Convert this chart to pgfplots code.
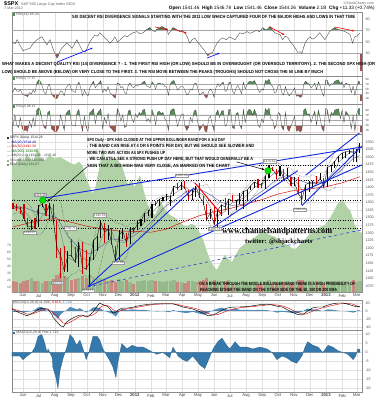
\documentclass[border=0pt]{standalone}
\usepackage{fontspec}
\setmainfont{Liberation Sans}
\newfontfamily\serifb{Liberation Serif}
\usepackage{graphicx}
\usepackage{pgfplots}
\pgfplotsset{compat=1.18}
\usepackage{pgfplotstable}
\usetikzlibrary{arrows.meta}

\definecolor{obg}{RGB}{88,140,88}
\definecolor{osr}{RGB}{160,82,72}
\definecolor{greenarea}{RGB}{176,210,166}
\definecolor{volup}{RGB}{150,185,140}
\definecolor{voldn}{RGB}{200,138,128}
\definecolor{histb}{RGB}{52,120,172}
\definecolor{bbl}{RGB}{20,40,230}

\pgfplotstableread{
d c h l u v m w
0 1338 1350 1330 0 1090 1335 25
7 1333 1346 1323 0 1088 1337 20
14 1331 1336 1311 0 1086 1338 18
21 1300 1346 1297 0 1092 1325 30
28 1271 1300 1268 0 1095 1309 40
35 1271 1292 1258 1 1100 1293 40
42 1268 1298 1263 0 1092 1278 30
49 1340 1341 1270 1 1090 1288 45
56 1344 1356 1334 1 1086 1306 55
63 1316 1344 1306 0 1090 1318 50
70 1345 1347 1295 1 1092 1336 30
77 1292 1345 1282 0 1098 1324 35
84 1199 1291 1168 0 1110 1288 75
91 1178 1199 1101 0 1118 1254 100
98 1124 1208 1123 0 1108 1198 95
105 1177 1190 1122 1 1100 1170 70
112 1174 1230 1170 0 1094 1163 50
119 1154 1204 1149 0 1098 1157 40
126 1216 1220 1136 1 1102 1180 50
133 1136 1220 1114 0 1108 1170 50
140 1131 1195 1128 0 1100 1159 55
147 1155 1171 1075 1 1110 1160 50
154 1225 1226 1160 1 1100 1162 60
161 1238 1239 1191 1 1098 1187 85
168 1285 1292 1232 1 1100 1226 80
175 1253 1284 1215 0 1098 1250 50
182 1264 1277 1226 1 1092 1260 40
189 1216 1265 1209 0 1094 1255 40
196 1159 1208 1158 0 1088 1223 60
203 1244 1260 1162 1 1098 1221 60
210 1255 1267 1231 1 1092 1218 60
217 1219 1249 1202 0 1094 1219 50
224 1265 1268 1214 1 1088 1246 35
231 1258 1269 1248 0 1080 1249 30
238 1278 1294 1258 1 1090 1255 30
245 1289 1297 1274 1 1092 1272 30
252 1315 1316 1286 1 1094 1285 35
259 1316 1327 1306 1 1092 1300 35
266 1345 1346 1300 1 1096 1316 35
273 1343 1354 1337 0 1092 1330 30
280 1361 1362 1340 1 1090 1341 25
287 1366 1368 1356 1 1088 1354 20
294 1370 1378 1358 1 1092 1360 15
301 1371 1372 1340 1 1092 1367 12
308 1404 1406 1372 1 1096 1378 25
315 1397 1414 1391 0 1088 1386 30
322 1408 1419 1392 1 1088 1395 25
329 1398 1422 1394 0 1084 1402 15
336 1370 1391 1357 0 1092 1393 25
343 1378 1392 1358 1 1090 1388 30
350 1403 1406 1368 1 1088 1387 25
357 1369 1415 1367 0 1092 1380 25
364 1353 1371 1343 0 1094 1376 30
371 1295 1345 1291 0 1100 1355 55
378 1318 1328 1295 1 1090 1334 60
385 1278 1334 1277 0 1094 1311 50
392 1325 1330 1267 1 1092 1304 40
399 1343 1343 1307 1 1090 1316 40
406 1335 1364 1324 0 1092 1320 45
413 1362 1363 1309 1 1094 1341 40
420 1355 1375 1352 0 1082 1349 30
427 1357 1357 1326 1 1086 1352 20
434 1363 1380 1345 1 1086 1359 15
441 1386 1389 1329 1 1090 1365 25
448 1391 1392 1354 1 1088 1374 30
455 1406 1406 1390 1 1080 1387 30
462 1418 1418 1399 1 1078 1400 25
469 1411 1426 1398 0 1080 1407 15
476 1407 1413 1397 0 1080 1410 12
483 1438 1438 1396 1 1088 1418 20
490 1466 1475 1430 1 1094 1430 40
497 1460 1467 1454 0 1088 1443 40
504 1441 1461 1428 0 1086 1451 30
511 1461 1471 1439 1 1086 1457 20
518 1429 1461 1425 0 1088 1448 25
525 1433 1464 1428 1 1090 1441 25
532 1412 1434 1403 0 1086 1434 30
539 1414 1434 1405 1 1088 1422 25
546 1380 1434 1377 0 1094 1410 30
553 1360 1389 1343 0 1096 1391 45
560 1409 1409 1358 1 1084 1391 45
567 1416 1420 1385 1 1090 1391 45
574 1418 1420 1398 1 1090 1401 40
581 1413 1439 1411 0 1090 1414 20
588 1430 1448 1424 1 1092 1419 15
595 1402 1430 1399 0 1080 1416 20
602 1466 1467 1402 1 1090 1428 40
609 1472 1473 1451 1 1090 1443 50
616 1486 1486 1465 1 1092 1456 60
623 1503 1503 1483 1 1092 1482 40
630 1513 1514 1495 1 1092 1494 35
637 1518 1518 1496 1 1086 1505 25
644 1520 1524 1511 1 1086 1514 15
651 1516 1530 1485 0 1094 1517 12
658 1518 1525 1485 1 1088 1517 15
664 1544 1547 1513 1 1090 1518 27
}\price

\pgfplotstableread{
d g
-2 1470
5 1480
13 1500
20 1485
27 1510
32 1495
40 1488
47 1530
52 1500
61 1490
70 1505
80 1495
90 1500
100 1490
110 1480
118 1475
126 1485
133 1470
138 1440
143 1420
147 1400
152 1380
157 1395
162 1440
166 1470
171 1530
176 1495
186 1490
195 1500
202 1485
208 1475
214 1440
220 1410
227 1425
233 1400
238 1420
243 1440
250 1390
258 1342
265 1320
272 1309
277 1330
281 1359
290 1330
300 1309
310 1300
319 1286
326 1275
333 1270
340 1280
348 1276
356 1255
364 1227
370 1195
377 1161
384 1140
390 1128
397 1150
405 1177
412 1165
419 1154
427 1180
434 1200
445 1215
457 1227
466 1240
476 1253
484 1250
491 1243
500 1238
511 1227
520 1215
530 1205
539 1194
548 1210
558 1227
570 1250
583 1266
597 1276
604 1290
610 1309
615 1325
620 1342
625 1352
629 1359
633 1352
637 1342
641 1330
645 1326
650 1300
654 1276
660 1260
664 1253
668 1250
}\greenarea

\pgfplotstableread{
d r
-2 50
4 47
8 54
13 45
19 35
25 37
32 39
39 48
46 54
51 57
55 59
60 52
65 45
68 50
71 54
75 42
80 30
84 22
87 26
90 35
96 42
103 48
108 44
113 39
118 47
122 54
127 45
132 36
138 32
142 40
147 50
152 57
157 62
162 60
166 66
171 62
176 57
181 53
185 48
190 52
195 59
200 50
205 54
210 58
214 61
219 59
224 63
230 66
237 68
243 64
249 66
255 71
262 75
267 70
272 68
275 72
280 74
285 77
290 74
295 73
297 63
301 68
306 75
312 72
319 68
324 70
329 66
334 58
338 48
343 54
348 57
353 50
358 45
362 40
367 35
370 30
373 26
377 30
382 32
387 42
392 50
397 55
402 57
408 54
415 59
420 56
425 54
430 60
434 66
440 64
448 68
453 65
459 67
465 70
472 68
478 75
482 72
486 71
492 77
497 70
501 66
506 64
511 63
516 54
521 60
526 58
531 50
536 45
541 38
545 32
550 33
553 30
556 40
559 48
564 55
568 59
573 55
578 57
583 62
587 66
592 60
597 54
602 62
606 68
611 72
616 75
620 72
625 71
630 70
635 68
640 66
645 63
650 48
654 59
658 60
661 63
664 65
}\rsiA

\pgfplotstableread{
d a b
-3.5 45 40
0 38 25
3.5 55 70
7 42 30
10.5 40 20
14 48 60
17.5 30 15
21 25 8
24.5 22 10
28 18 5
31.5 35 45
35 30 20
38.5 45 60
42 35 25
45.5 75 90
49 88 98
52.5 80 85
56 62 45
59.5 35 20
63 30 15
66.5 60 80
70 70 85
73.5 30 15
77 20 8
80.5 12 3
84 10 5
87.5 25 20
91 42 70
94.5 38 40
98 22 8
101.5 55 75
105 65 85
108.5 70 90
112 45 30
115.5 40 30
119 35 25
122.5 65 80
126 78 92
129.5 55 40
133 22 5
136.5 45 65
140 30 20
143.5 20 5
147 55 80
150.5 70 85
154 82 95
157.5 55 35
161 65 75
164.5 75 85
168 85 95
171.5 35 15
175 50 60
178.5 40 35
182 60 75
185.5 35 20
189 28 15
192.5 18 5
196 12 3
199.5 75 95
203 72 80
206.5 55 45
210 60 70
213.5 35 20
217 30 25
220.5 65 85
224 75 90
227.5 60 55
231 55 40
234.5 65 75
238 62 60
241.5 70 80
245 68 70
248.5 78 90
252 82 92
255.5 62 45
259 60 55
262.5 55 40
266 80 92
269.5 70 70
273 50 30
276.5 72 80
280 75 85
283.5 70 75
287 72 80
290.5 60 55
294 58 45
297.5 25 8
301 70 85
304.5 82 92
308 85 95
311.5 65 60
315 45 25
318.5 55 50
322 62 70
325.5 60 75
329 45 25
332.5 25 8
336 30 20
339.5 50 60
343 45 40
346.5 70 85
350 75 90
353.5 55 40
357 25 8
360.5 30 20
364 38 35
367.5 18 5
371 12 3
374.5 40 55
378 50 65
381.5 38 30
385 15 5
388.5 55 75
392 72 90
395.5 60 60
399 72 85
402.5 78 88
406 40 25
409.5 45 35
413 75 92
416.5 78 90
420 42 20
423.5 30 15
427 55 75
430.5 65 80
434 48 30
437.5 30 15
441 78 92
444.5 50 40
448 68 80
451.5 80 92
455 82 90
458.5 78 70
462 85 92
465.5 70 75
469 48 30
472.5 35 20
476 50 55
479.5 45 40
483 85 95
486.5 82 85
490 90 97
493.5 70 55
497 60 50
500.5 35 15
504 38 30
507.5 65 80
511 68 75
514.5 35 20
518 25 10
521.5 60 80
525 35 15
528.5 22 5
532 30 25
535.5 40 45
539 55 65
542.5 20 5
546 22 10
549.5 15 3
553 20 10
556.5 70 90
560 82 95
563.5 75 70
567 70 75
570.5 55 40
574 62 65
577.5 75 85
581 48 30
584.5 80 90
588 62 55
591.5 35 15
595 20 5
598.5 88 97
602 85 90
605.5 62 40
609 72 80
612.5 70 70
616 82 90
619.5 85 92
623 88 95
626.5 70 55
630 80 90
633.5 55 40
637 75 85
640.5 70 75
644 68 60
647.5 35 15
651 62 70
654.5 25 5
658 60 75
661.5 82 95
664 78 96
}\rsiB

\pgfplotstableread{
d m s h
-2 5 6 -2
13 -5 0 -2
19 -8 -3 -4
27 -12 -8 -2
36 -6 -8 0
42 -2 -5 3
48 4 -2 9
55 7 2 10
61 6 4 5
65 5 5 0
67 4 4 2
75 -10 -2 -3
76 -15 -4 -8
82 -24 -10 -14
86 -30 -15 -20
90 -36 -22 -10
96 -40 -30 -3
103 -27 -32 3
109 -22 -28 10
115 -17 -24 8
122 -13 -18 4
128 -10 -14 7
134 -11 -12 2
140 -15 -12 -4
145 -12 -13 0
153 -3 -10 9
161 12 -2 9
166 20 8 7
172 16 13 2
180 12 14 -2
186 4 10 -5
191 -5 4 -8
197 -3 0 -14
201 2 -1 -5
208 7 2 5
218 7 5 2
228 9 7 4
237 12 9 3
249 15 12 3
262 17 15 1
275 18 17 -1
287 18 18 0
300 18 18 -3
306 18 18 3
316 14 16 -2
325 10 13 -4
333 8 11 -5
344 5 8 -2
358 -2 3 -7
367 -8 -2 -9
373 -12 -6 -5
383 -10 -10 2
392 -4 -9 6
400 2 -5 8
409 7 0 4
415 9 3 2
425 10 6 6
434 10 8 3
448 11 10 3
459 13 11 2
473 16 13 3
486 17 15 2
496 15 16 0
505 12 15 -4
515 10 13 -2
524 4 9 -3
534 -3 3 -5
543 -8 -3 -6
553 -10 -7 -2
559 -5 -8 3
564 0 -6 6
574 8 0 4
584 10 5 3
593 10 8 0
603 15 11 4
612 18 14 3
622 20 17 1
632 20 19 0
641 17 19 -1
651 13 17 -4
656 11 14 -2
660 11.5 11 2
664 11.5 10 1.7
}\macd

\pgfplotstableread{
d a
0 1270
49 1290
80 1297
111 1285
141 1272
172 1263
202 1256
233 1255
264 1252
293 1262
324 1285
354 1305
385 1320
415 1330
446 1345
477 1360
507 1378
538 1390
568 1395
599 1402
630 1415
664 1435
}\masl

\pgfplotstableread{
d a
0 1330
21 1335
42 1320
63 1310
84 1300
105 1240
126 1200
147 1180
168 1205
189 1230
210 1225
231 1240
252 1265
273 1300
294 1340
315 1365
336 1390
357 1395
378 1375
399 1350
420 1340
441 1345
462 1370
483 1395
504 1425
525 1440
546 1425
567 1412
588 1415
609 1430
630 1460
651 1495
664 1505
}\mamid

\pgfplotsset{
 panel/.style={scale only axis, width=350pt, xmin=-2, xmax=668, anchor=north west,
  axis line style={draw=black!45, line width=0.3pt},
  xtick={19,49,80,111,141,172,202,233,264,293,324,354,385,415,446,477,507,538,568,599,630,658},
  xticklabels={}, xmajorgrids, grid style={draw=black!12, line width=0.25pt},
  tick style={draw=none},
  yticklabel pos=right,
  tick label style={font=\fontsize{3.6}{4}\selectfont, text=black!70},
  /pgf/number format/assume math mode=true,
  /pgf/number format/1000 sep={},
  clip=true},
 sub/.style={scale only axis, width=350pt, xmin=-2, xmax=668, hide axis, clip=true},
 months/.style={xticklabels={Jun,Jul,Aug,Sep,Oct,Nov,Dec,\textbf{2012},Feb,Mar,Apr,May,Jun,Jul,Aug,Sep,Oct,Nov,Dec,\textbf{2013},Feb,Mar},
  xticklabel style={font=\fontsize{4.2}{5}\selectfont, text=black!75, yshift=1.5pt}},
 rsigrid/.style={extra y ticks={30,50,70}, extra y tick labels={}, extra y tick style={grid=major, major grid style={draw=black!35, line width=0.3pt}}},
}

\newcommand{\ann}[4]{\node[anchor=west,inner sep=0pt] at (#1,#2) {\resizebox{#3pt}{3.2pt}{\bfseries #4}};}

\begin{document}
\begin{tikzpicture}
\path[use as bounding box] (0,0) rectangle (377pt,400pt);
\fill[white] (0,0) rectangle (377pt,400pt);

% ---------- RSI(14): y 12..76 px, range -9..102
\begin{axis}[sub, anchor=north west, at={(12pt,388pt)}, height=18.45pt, ymin=70, ymax=102]
\addplot[fill=obg, draw=none] table[x=d,y=r]{\rsiA} \closedcycle;
\end{axis}
\begin{axis}[sub, anchor=south west, at={(12pt,329.189pt)}, height=17.297pt, ymin=0, ymax=30]
\addplot[fill=osr, draw=none] coordinates {(-2,0) (-2,30) (668,30) (668,0)} \closedcycle;
\addplot[fill=white, draw=none] table[x=d,y=r]{\rsiA} \closedcycle;
\end{axis}
\begin{axis}[panel, at={(12pt,388pt)}, height=64pt, ymin=-9, ymax=102, ytick={30,50,70,90}, rsigrid]
\addplot[black!75, line width=0.35pt] table[x=d,y=r]{\rsiA};
\draw[-{Latex[length=2.4pt,width=2pt]}, blue, line width=0.6pt] (axis cs:84,15) -- (axis cs:153,40);
\draw[-{Latex[length=2.4pt,width=2pt]}, blue, line width=0.6pt] (axis cs:371,22) -- (axis cs:396,31);
\draw[-{Latex[length=2.4pt,width=2pt]}, red, line width=0.6pt] (axis cs:272,76) -- (axis cs:297,71);
\draw[-{Latex[length=2.4pt,width=2pt]}, red, line width=0.6pt] (axis cs:306,73) -- (axis cs:333,65);
\draw[-{Latex[length=2.4pt,width=2pt]}, red, line width=0.6pt] (axis cs:492,76) -- (axis cs:520,62);
\draw[-{Latex[length=2.4pt,width=2pt]}, red, line width=0.6pt] (axis cs:616,76) -- (axis cs:654,69);
\end{axis}

% ---------- RSI(5): y 76..104 px, range -12.5..104
\begin{axis}[sub, anchor=north west, at={(12pt,324pt)}, height=8.172pt, ymin=70, ymax=104]
\addplot[fill=obg, draw=none] table[x=d,y=a]{\rsiB} \closedcycle;
\end{axis}
\begin{axis}[sub, anchor=south west, at={(12pt,299.004pt)}, height=7.21pt, ymin=0, ymax=30]
\addplot[fill=osr, draw=none] coordinates {(-2,0) (-2,30) (668,30) (668,0)} \closedcycle;
\addplot[fill=white, draw=none] table[x=d,y=a]{\rsiB} \closedcycle;
\end{axis}
\begin{axis}[panel, at={(12pt,324pt)}, height=28pt, ymin=-12.5, ymax=104, ytick={10,30,50,70,90}, rsigrid, tick label style={font=\fontsize{3}{3}\selectfont}]
\addplot[black!75, line width=0.3pt] table[x=d,y=a]{\rsiB};
\end{axis}

% ---------- RSI(2): y 104..134 px, range -6..114
\begin{axis}[sub, anchor=north west, at={(12pt,296pt)}, height=11pt, ymin=70, ymax=114]
\addplot[fill=obg, draw=none] table[x=d,y=b]{\rsiB} \closedcycle;
\end{axis}
\begin{axis}[sub, anchor=south west, at={(12pt,267.5pt)}, height=7.5pt, ymin=0, ymax=30]
\addplot[fill=osr, draw=none] coordinates {(-2,0) (-2,30) (668,30) (668,0)} \closedcycle;
\addplot[fill=white, draw=none] table[x=d,y=b]{\rsiB} \closedcycle;
\end{axis}
\begin{axis}[panel, at={(12pt,296pt)}, height=30pt, ymin=-6, ymax=114, ytick={10,30,50,70,90}, rsigrid, tick label style={font=\fontsize{3}{3}\selectfont}]
\addplot[black!75, line width=0.3pt] table[x=d,y=b]{\rsiB};
\end{axis}

% ---------- Price: y 134..292 px
\begin{axis}[panel, months, at={(12pt,266pt)}, height=158pt, ymin=1055, ymax=1576,
  ytick={1075,1100,...,1550}, ymajorgrids, tick label style={font=\fontsize{3.6}{4}\selectfont}]
\addplot[fill=greenarea, draw=none] table[x=d,y=g]{\greenarea} \closedcycle;
\addplot[ycomb, draw=volup, line width=3.2pt, restrict expr to domain={\thisrow{u}}{0.5:1.5}] table[x=d,y=v]{\price};
\addplot[ycomb, draw=voldn, line width=3.2pt, restrict expr to domain={\thisrow{u}}{-0.5:0.5}] table[x=d,y=v]{\price};
\addplot[black, dotted, line width=0.45pt] coordinates {(-2,1422.4) (668,1422.4)};
\addplot[black, dotted, line width=0.45pt] coordinates {(-2,1356.5) (668,1356.5)};
\addplot[black, dotted, line width=0.45pt] coordinates {(-2,1292.7) (668,1292.7)};
\addplot[black, dotted, line width=0.45pt] coordinates {(-2,1266.7) (668,1266.7)};
\addplot[black, dotted, line width=0.45pt] coordinates {(470,1474.5) (668,1474.5)};
\addplot[black!80, densely dotted, line width=0.4pt] table[x=d, y expr=\thisrow{m}+\thisrow{w}]{\price};
\addplot[black!80, densely dotted, line width=0.4pt] table[x=d, y expr=\thisrow{m}-\thisrow{w}]{\price};
\addplot[black!55, line width=0.35pt] table[x=d,y=m]{\price};
\addplot[gray!70!blue, line width=0.4pt] table[x=d,y=a]{\mamid};
\addplot[red!85!black, line width=0.45pt] table[x=d,y=a]{\masl};
\addplot[draw=none, mark=none, restrict expr to domain={\thisrow{u}}{0.5:1.5},
  error bars/.cd, y dir=both, y explicit, error mark=none, error bar style={line width=1.1pt, black}]
  table[x=d, y=c, y error plus expr=\thisrow{h}-\thisrow{c}, y error minus expr=\thisrow{c}-\thisrow{l}]{\price};
\addplot[draw=none, mark=none, restrict expr to domain={\thisrow{u}}{-0.5:0.5},
  error bars/.cd, y dir=both, y explicit, error mark=none, error bar style={line width=1.1pt, red!85!black}]
  table[x=d, y=c, y error plus expr=\thisrow{h}-\thisrow{c}, y error minus expr=\thisrow{c}-\thisrow{l}]{\price};
\addplot[black, line width=0.35pt] table[x=d,y=c]{\price};
\addplot[bbl, line width=0.9pt] coordinates {(61,1365) (668,1533)};
\addplot[bbl, line width=0.9pt] coordinates {(144,1074) (346,1398)};
\addplot[bbl, line width=0.9pt] coordinates {(143,1072) (668,1474)};
\addplot[bbl, dashed, line width=0.5pt] coordinates {(143,1072) (668,1260)};
\addplot[bbl, line width=0.9pt] coordinates {(380,1265) (545,1455)};
\addplot[bbl, line width=0.9pt] coordinates {(560,1440) (668,1586)};
\addplot[bbl, line width=0.9pt] coordinates {(553,1340) (668,1536)};
\addplot[red, line width=1pt] coordinates {(348,1415) (400,1309)};
\addplot[only marks, mark=*, mark size=3.2pt, mark options={fill=green!90!black, draw=green!60!black}] coordinates {(57,1358) (488,1455)};
\draw[-{Latex[length=3pt,width=2.4pt]}, black, line width=0.5pt] (axis cs:141,1467) -- (axis cs:65,1352);
\draw[-{Latex[length=3pt,width=2.4pt]}, black, line width=0.5pt] (axis cs:428,1484) -- (axis cs:482,1458);
\node[font=\fontsize{3.2}{3.5}\selectfont, text=black!70, fill=white, draw=black!40, line width=0.2pt, inner sep=0.5pt] at (axis cs:52,1375) {1356.48};
\node[font=\fontsize{3.2}{3.5}\selectfont, text=black!70, fill=white, draw=black!40, line width=0.2pt, inner sep=0.5pt] at (axis cs:32,1250) {1258.07};
\node[font=\fontsize{3.2}{3.5}\selectfont, text=black!70, fill=white, draw=black!40, line width=0.2pt, inner sep=0.5pt] at (axis cs:109,1266) {1230.71};
\node[font=\fontsize{3.2}{3.5}\selectfont, text=black!70, fill=white, draw=black!40, line width=0.2pt, inner sep=0.5pt] at (axis cs:166,1309) {1292.66};
\node[font=\fontsize{3.2}{3.5}\selectfont, text=black!70, fill=white, draw=black!40, line width=0.2pt, inner sep=0.5pt] at (axis cs:84,1085) {1101.54};
\node[font=\fontsize{3.2}{3.5}\selectfont, text=black!70, fill=white, draw=black!40, line width=0.2pt, inner sep=0.5pt] at (axis cs:143,1059) {1074.77};
\node[font=\fontsize{3.2}{3.5}\selectfont, text=black!70, fill=white, draw=black!40, line width=0.2pt, inner sep=0.5pt] at (axis cs:201,1151) {1158.66};
\node[font=\fontsize{3.2}{3.5}\selectfont, text=black!70, fill=white, draw=black!40, line width=0.2pt, inner sep=0.5pt] at (axis cs:323,1438) {1422.38};
\node[font=\fontsize{3.2}{3.5}\selectfont, text=black!70, fill=white, draw=black!40, line width=0.2pt, inner sep=0.5pt] at (axis cs:386,1263) {1266.74};
\node[font=\fontsize{3.2}{3.5}\selectfont, text=black!70, fill=white, draw=black!40, line width=0.2pt, inner sep=0.5pt] at (axis cs:491,1487) {1474.51};
\node[font=\fontsize{3.2}{3.5}\selectfont, text=black!70, fill=white, draw=black!40, line width=0.2pt, inner sep=0.5pt] at (axis cs:549,1326) {1343.35};
\end{axis}

% ---------- MACD
\begin{axis}[panel, at={(12pt,100pt)}, height=30pt, ymin=-47.5, ymax=27.5, ytick={-40,-20,0,20}, ymajorgrids]
\addplot[fill=histb!85, draw=none] table[x=d,y=h]{\macd} \closedcycle;
\addplot[red!85!black, line width=0.4pt] table[x=d,y=s]{\macd};
\addplot[black, line width=0.45pt] table[x=d,y=m]{\macd};
\end{axis}

% ---------- MACD histogram
\begin{axis}[panel, months, at={(12pt,70pt)}, height=62pt, ymin=-22, ymax=12.5, ytick={-20,-15,...,10}, ymajorgrids]
\addplot[fill=histb, draw=histb!70!black, line width=0.2pt] table[x=d,y=h]{\macd} \closedcycle;
\end{axis}

% ---------- texts (pixel coordinates)
\begin{scope}[x=1pt, y=-1pt, shift={(0pt,400pt)}]
\node[anchor=west, inner sep=0pt] at (4,4) {{\fontsize{5.5}{6}\selectfont\bfseries \$SPX}\ {\fontsize{3.8}{4}\selectfont\color{black!60}S\&P 500 Large Cap Index INDX}};
\node[anchor=west, inner sep=0pt, font=\fontsize{3.6}{4}\selectfont, text=black!60] at (4,8.6) {7-Mar-2013};
\node[anchor=east, inner sep=0pt, font=\fontsize{3.6}{4}\selectfont, text=black!60] at (374,3) {\copyright StockCharts.com};
\node[anchor=east, inner sep=0pt] at (375,8) {\resizebox{206pt}{!}{\fontsize{4}{4.5}\selectfont \textbf{Open} 1541.46 \ \textbf{High} 1546.78 \ \textbf{Low} 1541.46 \ \textbf{Close} 1544.26 \ \textbf{Volume} 2.1B \ \textbf{Chg} +11.33 (+0.74\%)}};
\node[anchor=west, inner sep=0pt, font=\fontsize{3.6}{4}\selectfont, text=black!70] at (13,14.6) {\textcolor{obg}{\rule{2.2pt}{2.2pt}} RSI(14) 65.34};
\node[anchor=west, inner sep=0pt, font=\fontsize{3.4}{4}\selectfont, text=black!70] at (13,78.8) {\textcolor{obg}{\rule{2.2pt}{2.2pt}} RSI(5) 77.97};
\node[anchor=west, inner sep=0pt, font=\fontsize{3.4}{4}\selectfont, text=black!70] at (13,106.8) {\textcolor{obg}{\rule{2.2pt}{2.2pt}} RSI(2) 96.12};
\node[anchor=west, inner sep=0pt, font=\fontsize{3.6}{4}\selectfont, text=black!70] at (13,302.5) {MACD(12,26,9) 11.506, \textcolor{red}{9.815}, \textcolor{histb}{1.722}};
\node[anchor=west, inner sep=0pt, font=\fontsize{3.6}{4}\selectfont, text=black!70] at (13,332.8) {\textcolor{histb}{\rule{2.2pt}{2.2pt}} MACD(12,26,9) Hist 1.722};
\node[anchor=west, inner sep=0pt, font=\fontsize{3.4}{4}\selectfont, text=black!80] at (7,138) {\rule{2pt}{2pt} \$SPX (Daily) 1544.26};
\node[anchor=west, inner sep=0pt, font=\fontsize{3.4}{4}\selectfont, text=blue!70!black] at (7,142.5) {--- MA(20) 1518.49};
\node[anchor=west, inner sep=0pt, font=\fontsize{3.4}{4}\selectfont, text=red!80!black] at (7,147) {--- MA(50) 1492.30};
\node[anchor=west, inner sep=0pt, font=\fontsize{3.4}{4}\selectfont, text=green!40!black] at (7,151.5) {--- MA(200) 1434.85};
\node[anchor=west, inner sep=0pt, font=\fontsize{3.4}{4}\selectfont, text=black!75] at (7,156) {--- BB(20,2.0) 1491.45 - 1545.45};
\node[anchor=west, inner sep=0pt, font=\fontsize{3.4}{4}\selectfont, text=black!75] at (7,160.5) {\textcolor{volup}{\rule{2pt}{2pt}} Volume 2,242,510,000};
\node[anchor=west, inner sep=0pt, font=\fontsize{3.4}{4}\selectfont, text=black!75] at (7,165) {\textcolor{greenarea!70!black}{\rule{2pt}{2pt}} EBU (Daily) 131.07};
\node[anchor=east, inner sep=0pt, font=\fontsize{3.3}{4}\selectfont, text=black!65] at (11,245) {70};
\node[anchor=east, inner sep=0pt, font=\fontsize{3.3}{4}\selectfont, text=black!65] at (11,252) {60};
\node[anchor=east, inner sep=0pt, font=\fontsize{3.3}{4}\selectfont, text=black!65] at (11,259) {50};
\node[anchor=east, inner sep=0pt, font=\fontsize{3.3}{4}\selectfont, text=black!65] at (11,266) {40};
\node[anchor=east, inner sep=0pt, font=\fontsize{3.3}{4}\selectfont, text=black!65] at (11,273) {30};
\node[anchor=east, inner sep=0pt, font=\fontsize{3.3}{4}\selectfont, text=black!65] at (11,280) {20};
\node[anchor=east, inner sep=0pt, font=\fontsize{3.3}{4}\selectfont, text=black!65] at (11,287) {10};
\ann{72}{16.5}{283}{SIX DECENT RSI DIVERGENCE SIGNALS STARTING WITH THE 2011 LOW WHICH CAPTURED FOUR OF THE MAJOR HIGHS AND LOWS IN THAT TIME}
\ann{2}{64.5}{373}{WHAT MAKES A DECENT QUALITY RSI (14) DIVERGENCE ? - 1. THE FIRST RSI HIGH (OR LOW) SHOULD BE IN OVERBOUGHT (OR OVERSOLD TERRITORY). 2. THE SECOND SPX HIGH (OR}
\ann{2}{72.0}{321}{LOW) SHOULD BE ABOVE (BELOW) OR VERY CLOSE TO THE FIRST. 3. THE RSI MOVE BETWEEN THE PEAKS (TROUGHS) SHOULD NOT CROSS THE 50 LINE BY MUCH}
\ann{87}{140}{138}{SPX Daily - SPX HAS CLOSED AT THE UPPER BOLLINGER BAND FOR A 3rd DAY}
\ann{87}{146.5}{167}{. THE BAND CAN RISE AT 4 OR 5 POINTS PER DAY, BUT WE SHOULD SEE SLOWER AND}
\ann{87}{153}{78}{MORE TWO WAY ACTION AS SPX PUSHES UP}
\ann{87}{159.5}{166}{. WE CAN STILL SEE A STRONG PUSH UP DAY HERE, BUT THAT WOULD GENERALLY BE A}
\ann{87}{166}{143}{SIGN THAT A BIG HIGH WAS VERY CLOSE, AS MARKED ON THE CHART}
\ann{197}{283.5}{158}{- ON A BREAK THROUGH THE MIDDLE BOLLINGER BAND THERE IS A HIGH PROBABILITY OF}
\ann{200}{290}{137}{REACHING EITHER THE BAND ON THE OTHER SIDE OR THE 50, 100 OR 200 DMA}
\node[anchor=west, inner sep=0pt] at (222,232) {\resizebox{110pt}{!}{\serifb\bfseries www.channelsandpatterns.com}};
\node[anchor=west, inner sep=0pt] at (245,242) {\resizebox{67pt}{!}{\serifb\bfseries twitter: @shjackcharts}};
\end{scope}
\end{tikzpicture}
\end{document}
